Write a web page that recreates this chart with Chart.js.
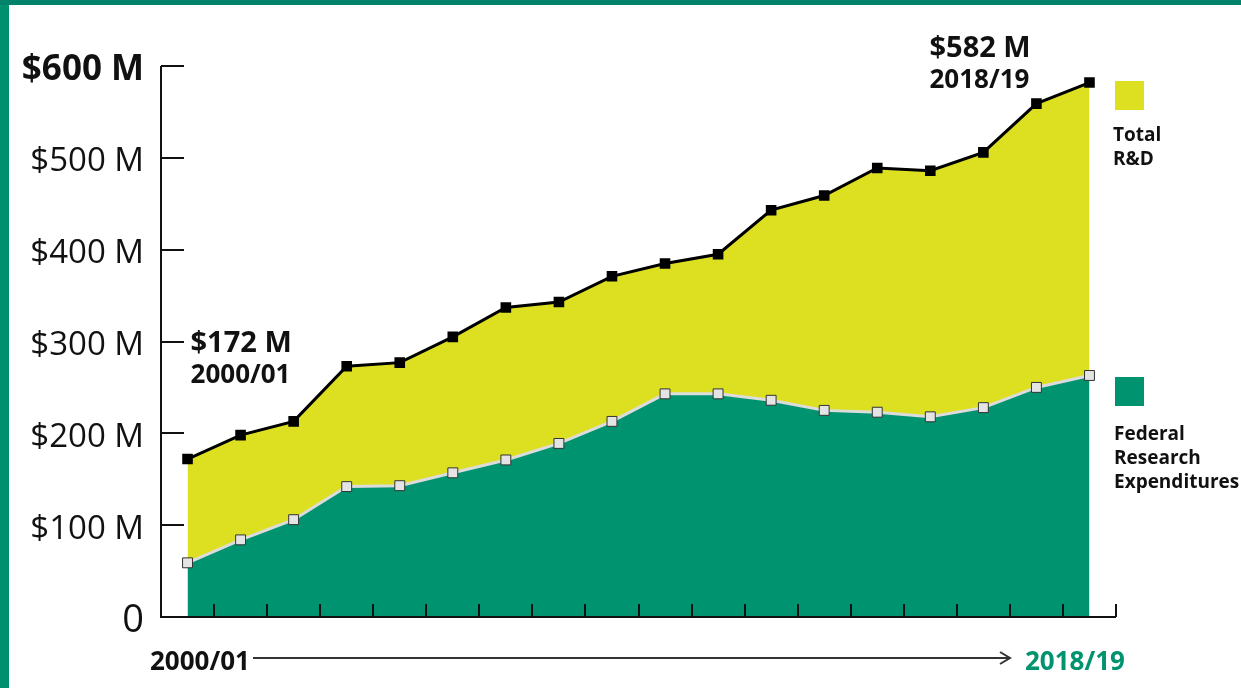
<!DOCTYPE html>
<html>
<head>
<meta charset="utf-8">
<script src="https://cdn.jsdelivr.net/npm/chart.js@4/dist/chart.umd.min.js"></script>
<style>
	html, body { margin: 0; padding: 0; background: #fff; }
	#wrap { position: relative; width: 1241px; height: 688px; overflow: hidden; }
	#chart { position: absolute; left: 0; top: 0; }
	.bar-left { position: absolute; left: 0; top: 0; width: 9px; height: 688px; background: #008f6f; }
	.bar-top { position: absolute; left: 0; top: 0; width: 1241px; height: 5px; background: #00836a; }
</style>
</head>
<body>
<div id="wrap">
	<canvas id="chart" width="1241" height="688"></canvas>
	<div class="bar-left"></div>
	<div class="bar-top"></div>
</div>
<script>
var years = ['2000/01','2001/02','2002/03','2003/04','2004/05','2005/06','2006/07','2007/08','2008/09',
	'2009/10','2010/11','2011/12','2012/13','2013/14','2014/15','2015/16','2016/17','2018/19'];
var totalRD = [172, 198, 213, 273, 277, 305, 337, 343, 371, 385, 395, 443, 459, 489, 486, 506, 559, 582];
var federal = [59, 84, 106, 142, 143, 157, 171, 189, 213, 243, 243, 236, 225, 223, 218, 228, 250, 263];
var yTicks = [0, 100, 200, 300, 400, 500, 600];

var GREEN = '#00936f';
var YELLOW = '#dce021';
var FONT = '"Open Sans", sans-serif';

function money(v){ return v === 0 ? '0' : '$' + v + ' M'; }

// axis lines with inward ticks, annotations, legend and the bottom arrow
var extras = {
	id: 'extras',
	afterDraw: function(chart){
		var ctx = chart.ctx, x = chart.scales.x, y = chart.scales.y;
		var area = chart.chartArea;
		ctx.save();
		ctx.strokeStyle = '#111';
		ctx.lineWidth = 2;
		ctx.beginPath();
		ctx.moveTo(area.left, area.top); ctx.lineTo(area.left, area.bottom); ctx.lineTo(area.right, area.bottom);
		yTicks.forEach(function(v){
			if(v === 0) return;
			var py = Math.round(y.getPixelForValue(v));
			ctx.moveTo(area.left, py); ctx.lineTo(area.left + 23, py);
		});
		var half = (x.getPixelForValue(1) - x.getPixelForValue(0)) / 2;
		for(var i = 0; i < years.length; i++){
			var px = Math.round(x.getPixelForValue(i) + half);
			ctx.moveTo(px, area.bottom); ctx.lineTo(px, area.bottom - 13);
		}
		ctx.stroke();

		ctx.fillStyle = '#111';
		ctx.textBaseline = 'alphabetic';
		ctx.textAlign = 'left';
		var x0 = x.getPixelForValue(0), xn = x.getPixelForValue(years.length - 1);
		ctx.font = 'bold 29px ' + FONT;
		ctx.fillText(money(totalRD[0]), x0 + 3, 352);
		ctx.font = 'bold 26px ' + FONT;
		ctx.fillText(years[0], x0 + 3, 383);
		ctx.font = 'bold 29px ' + FONT;
		ctx.fillText(money(totalRD[totalRD.length - 1]), xn - 160, 57);
		ctx.font = 'bold 26px ' + FONT;
		ctx.fillText(years[years.length - 1], xn - 160, 88);

		// legend
		ctx.fillStyle = YELLOW;
		ctx.fillRect(1115, 81, 29, 29);
		ctx.fillStyle = GREEN;
		ctx.fillRect(1115, 377, 29, 29);
		ctx.fillStyle = '#111';
		ctx.font = 'bold 19px ' + FONT;
		ctx.fillText('Total', 1113, 141);
		ctx.fillText('R&D', 1113, 165);
		ctx.fillText('Federal', 1114, 440);
		ctx.fillText('Research', 1114, 464);
		ctx.fillText('Expenditures', 1114, 488);

		// bottom timeline
		ctx.font = 'bold 26px ' + FONT;
		ctx.fillText(years[0], 150, 670);
		ctx.fillStyle = GREEN;
		ctx.fillText(years[years.length - 1], 1025, 670);
		ctx.strokeStyle = '#333';
		ctx.lineWidth = 2;
		ctx.beginPath();
		ctx.moveTo(253, 658); ctx.lineTo(1010, 658);
		ctx.moveTo(1000, 652); ctx.lineTo(1010, 658); ctx.lineTo(1000, 664);
		ctx.stroke();
		ctx.restore();
	}
};

new Chart(document.getElementById('chart'), {
	type: 'line',
	data: {
		labels: years,
		datasets: [{
			label: 'Federal Research Expenditures',
			data: federal,
			fill: 'origin',
			backgroundColor: GREEN,
			borderColor: '#dcdcdc',
			borderWidth: 3,
			pointStyle: 'rect',
			pointRadius: 7,
			pointBackgroundColor: '#e4e4e4',
			pointBorderColor: '#333',
			pointBorderWidth: 1,
			tension: 0
		}, {
			label: 'Total R&D',
			data: totalRD,
			fill: '-1',
			backgroundColor: YELLOW,
			borderColor: '#000',
			borderWidth: 3,
			pointStyle: 'rect',
			pointRadius: 7.5,
			pointBackgroundColor: '#000',
			pointBorderColor: '#000',
			pointBorderWidth: 0,
			tension: 0
		}]
	},
	options: {
		responsive: false,
		animation: false,
		layout: { padding: { top: 66, right: 125, bottom: 71, left: 0 } },
		plugins: { legend: { display: false }, tooltip: { enabled: false } },
		scales: {
			x: {
				display: false,
				offset: true
			},
			y: {
				min: 0, max: 600,
				afterFit: function(s){ s.width = 161; },
				afterBuildTicks: function(s){ s.ticks = yTicks.map(function(v){ return {value: v}; }); },
				grid: { display: false, drawTicks: false },
				border: { display: false },
				ticks: {
					padding: 17,
					labelOffset: 4,
					color: '#111',
					callback: function(v){ return money(v); },
					font: function(c){
						if(c.tick && c.tick.value === 600) return { family: FONT, size: 35, weight: 'bold' };
						if(c.tick && c.tick.value === 0) return { family: FONT, size: 38, weight: 'normal' };
						return { family: FONT, size: 33, weight: 'normal' };
					}
				}
			}
		}
	},
	plugins: [extras]
});
</script>
</body>
</html>
